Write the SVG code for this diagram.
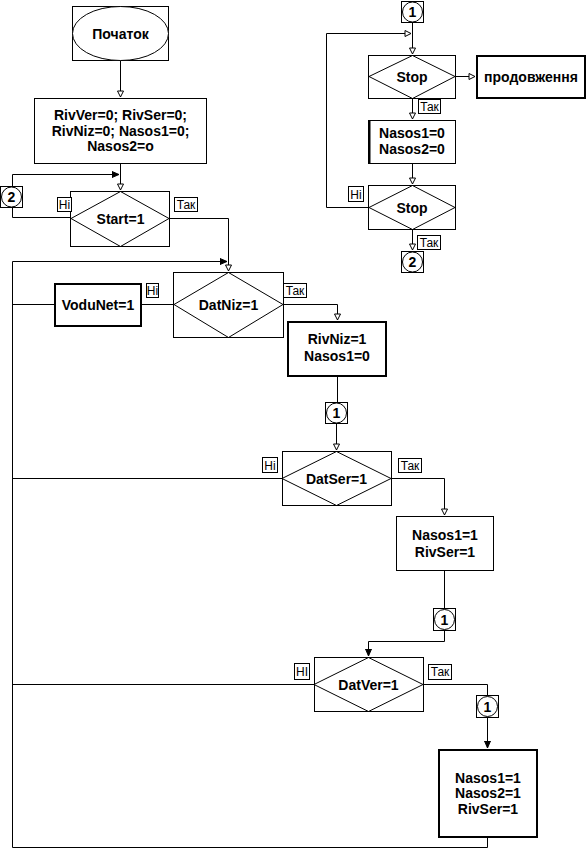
<svg xmlns="http://www.w3.org/2000/svg" width="586" height="854" viewBox="0 0 586 854">
<defs>
<style>
.b{fill:#fff;stroke:#000;stroke-width:1}
.bt{fill:#fff;stroke:#000;stroke-width:2}
.d{fill:none;stroke:#000;stroke-width:1}
.w{fill:none;stroke:#000;stroke-width:1}
.t{font-family:"Liberation Sans",Arial,sans-serif;font-weight:bold;font-size:14px;text-anchor:middle;fill:#000}
.l{font-family:"Liberation Sans",Arial,sans-serif;font-size:12px;text-anchor:middle;fill:#000}
.lb{fill:#fff;stroke:#000;stroke-width:1}
</style>
<marker id="oa" markerWidth="8" markerHeight="8" refX="7" refY="4" orient="auto" markerUnits="userSpaceOnUse">
<path d="M1,1 L7,4 L1,7 Z" fill="#fff" stroke="#000" stroke-width="1"/>
</marker>
<marker id="fa" markerWidth="8" markerHeight="8" refX="7" refY="4" orient="auto" markerUnits="userSpaceOnUse">
<path d="M0,1 L7,4 L0,7 Z" fill="#000" stroke="#000" stroke-width="1"/>
</marker>
</defs>
<rect width="586" height="854" fill="#fff"/>

<g id="connectors">
<path class="w" d="M120.5,60 V97" marker-end="url(#oa)"/>
<path class="w" d="M120.5,163 V190" marker-end="url(#oa)"/>
<path class="w" d="M71,217.5 H12.5 V174.5 H119" marker-end="url(#fa)"/>
<path class="w" d="M169,218.5 H228.5 V271" marker-end="url(#oa)"/>
<path class="w" d="M12.5,847.5 V261.5 H227" marker-end="url(#fa)"/>
<path class="w" d="M174,304.5 H141"/>
<path class="w" d="M54,304.5 H12.5"/>
<path class="w" d="M283,304.5 H337.5 V320" marker-end="url(#oa)"/>
<path class="w" d="M337.5,376 V402"/>
<path class="w" d="M336.5,424 V450" marker-end="url(#oa)"/>
<path class="w" d="M282,478.5 H12.5"/>
<path class="w" d="M391,478.5 H444.5 V515" marker-end="url(#oa)"/>
<path class="w" d="M444.5,570 V608"/>
<path class="w" d="M444.5,631 V641.5 H368.5 V656" marker-end="url(#fa)"/>
<path class="w" d="M314,684.5 H12.5"/>
<path class="w" d="M423,684.5 H487.5 V695"/>
<path class="w" d="M487.5,717 V748" marker-end="url(#fa)"/>
<path class="w" d="M487.5,837 V847.5 H12.5"/>
<path class="w" d="M412.5,22 V54" marker-end="url(#oa)"/>
<path class="w" d="M369,207.5 H326.5 V33.5 H411" marker-end="url(#oa)"/>
<path class="w" d="M455,76.5 H475" marker-end="url(#oa)"/>
<path class="w" d="M412.5,98 V119" marker-end="url(#oa)"/>
<path class="w" d="M412.5,163 V184" marker-end="url(#oa)"/>
<path class="w" d="M412.5,229 V250" marker-end="url(#oa)"/>
</g>

<g id="start">
<rect class="b" x="72.5" y="6.5" width="96" height="54"/>
<ellipse class="b" cx="120.5" cy="33.5" rx="48" ry="27"/>
<text class="t" x="120.5" y="38.5">Початок</text>
</g>

<g id="init">
<rect class="b" x="34.5" y="98.5" width="172" height="65"/>
<text class="t" x="120.5" y="120">RivVer=0; RivSer=0;</text>
<text class="t" x="120.5" y="136">RivNiz=0; Nasos1=0;</text>
<text class="t" x="120.5" y="151">Nasos2=o</text>
</g>

<g id="conn2a">
<rect class="b" x="0.5" y="186.5" width="22" height="21"/>
<circle class="b" cx="11.5" cy="197" r="10"/>
<text class="t" x="11.5" y="202">2</text>
</g>

<g id="start1">
<rect class="b" x="70.5" y="191.5" width="99" height="55"/>
<path class="d" d="M120.5,191.5 L169,218.5 L120.5,246.5 L71,218.5 Z"/>
<text class="t" x="120.5" y="223.5">Start=1</text>
<rect class="lb" x="57.5" y="197.5" width="14" height="14"/>
<text class="l" x="64.5" y="209">Hi</text>
<rect class="lb" x="174.5" y="197.5" width="23" height="14"/>
<text class="l" x="186" y="209">Так</text>
</g>

<g id="datniz">
<rect class="b" x="173.5" y="272.5" width="110" height="65"/>
<path class="d" d="M228.5,272.5 L283,304.5 L228.5,337.5 L174,304.5 Z"/>
<text class="t" x="228.5" y="309.5">DatNiz=1</text>
<rect class="lb" x="146.5" y="283.5" width="12" height="14"/>
<text class="l" x="152.5" y="295">Hi</text>
<rect class="lb" x="283.5" y="283.5" width="23" height="14"/>
<text class="l" x="295" y="295">Так</text>
</g>

<g id="vodunet">
<rect class="bt" x="55" y="284" width="86" height="42"/>
<text class="t" x="98" y="309.5">VoduNet=1</text>
</g>

<g id="rivniz">
<rect class="bt" x="288" y="322" width="98" height="54"/>
<text class="t" x="337" y="344">RivNiz=1</text>
<text class="t" x="337" y="361">Nasos1=0</text>
</g>

<g id="conn1a">
<rect class="b" x="325.5" y="402.5" width="22" height="21"/>
<circle class="b" cx="336.5" cy="413" r="10"/>
<text class="t" x="336.5" y="418">1</text>
</g>

<g id="datser">
<rect class="b" x="282.5" y="451.5" width="109" height="54"/>
<path class="d" d="M336.5,451.5 L391,478.5 L336.5,505.5 L282,478.5 Z"/>
<text class="t" x="336.5" y="483.5">DatSer=1</text>
<rect class="lb" x="262.5" y="457.5" width="15" height="15"/>
<text class="l" x="270" y="469.5">Hi</text>
<rect class="lb" x="398.5" y="458.5" width="23" height="14"/>
<text class="l" x="410" y="470">Так</text>
</g>

<g id="nasos1rivser">
<rect class="b" x="396.5" y="516.5" width="97" height="54"/>
<text class="t" x="445" y="540">Nasos1=1</text>
<text class="t" x="445" y="557">RivSer=1</text>
</g>

<g id="conn1b">
<rect class="b" x="433.5" y="608.5" width="22" height="22"/>
<circle class="b" cx="444.5" cy="619.5" r="10"/>
<text class="t" x="444.5" y="624.5">1</text>
</g>

<g id="datver">
<rect class="b" x="314.5" y="657.5" width="109" height="54"/>
<path class="d" d="M368.5,657.5 L423,684.5 L368.5,711.5 L314,684.5 Z"/>
<text class="t" x="368.5" y="689.5">DatVer=1</text>
<rect class="lb" x="294.5" y="663.5" width="15" height="16"/>
<text class="l" x="302" y="676">HI</text>
<rect class="lb" x="428.5" y="664.5" width="23" height="15"/>
<text class="l" x="440" y="676">Так</text>
</g>

<g id="conn1c">
<rect class="b" x="476.5" y="695.5" width="22" height="22"/>
<circle class="b" cx="487.5" cy="706.5" r="10"/>
<text class="t" x="487.5" y="711.5">1</text>
</g>

<g id="final">
<rect class="bt" x="439" y="750" width="98" height="87"/>
<text class="t" x="488" y="783">Nasos1=1</text>
<text class="t" x="488" y="798">Nasos2=1</text>
<text class="t" x="488" y="814">RivSer=1</text>
</g>

<g id="conn1top">
<rect class="b" x="401.5" y="1.5" width="22" height="21"/>
<circle class="b" cx="412.5" cy="12" r="10"/>
<text class="t" x="412.5" y="17">1</text>
</g>

<g id="stop1">
<rect class="b" x="368.5" y="55.5" width="87" height="43"/>
<path class="d" d="M412.5,55.5 L455,76.5 L412.5,98.5 L369,76.5 Z"/>
<text class="t" x="412" y="81.5">Stop</text>
<rect class="lb" x="418.5" y="99.5" width="22" height="14"/>
<text class="l" x="429.5" y="111">Так</text>
</g>

<g id="prodovzhennia">
<rect class="bt" x="477" y="56" width="108" height="42"/>
<text class="t" x="531" y="81.5">продовження</text>
</g>

<g id="nasos00">
<rect class="b" x="368.5" y="120.5" width="87" height="43"/>
<path d="M369.5,120 V164" stroke="#000" stroke-width="2"/>
<text class="t" x="412" y="138">Nasos1=0</text>
<text class="t" x="412" y="153.5">Nasos2=0</text>
</g>

<g id="stop2">
<rect class="b" x="368.5" y="185.5" width="87" height="44"/>
<path class="d" d="M412.5,185.5 L455,207.5 L412.5,229.5 L369,207.5 Z"/>
<text class="t" x="412" y="212.5">Stop</text>
<rect class="lb" x="348.5" y="186.5" width="15" height="15"/>
<text class="l" x="356" y="198.5">Hi</text>
<rect class="lb" x="417.5" y="235.5" width="23" height="14"/>
<text class="l" x="429" y="247">Так</text>
</g>

<g id="conn2b">
<rect class="b" x="401.5" y="251.5" width="22" height="21"/>
<circle class="b" cx="412.5" cy="262" r="10"/>
<text class="t" x="412.5" y="267">2</text>
</g>
</svg>
